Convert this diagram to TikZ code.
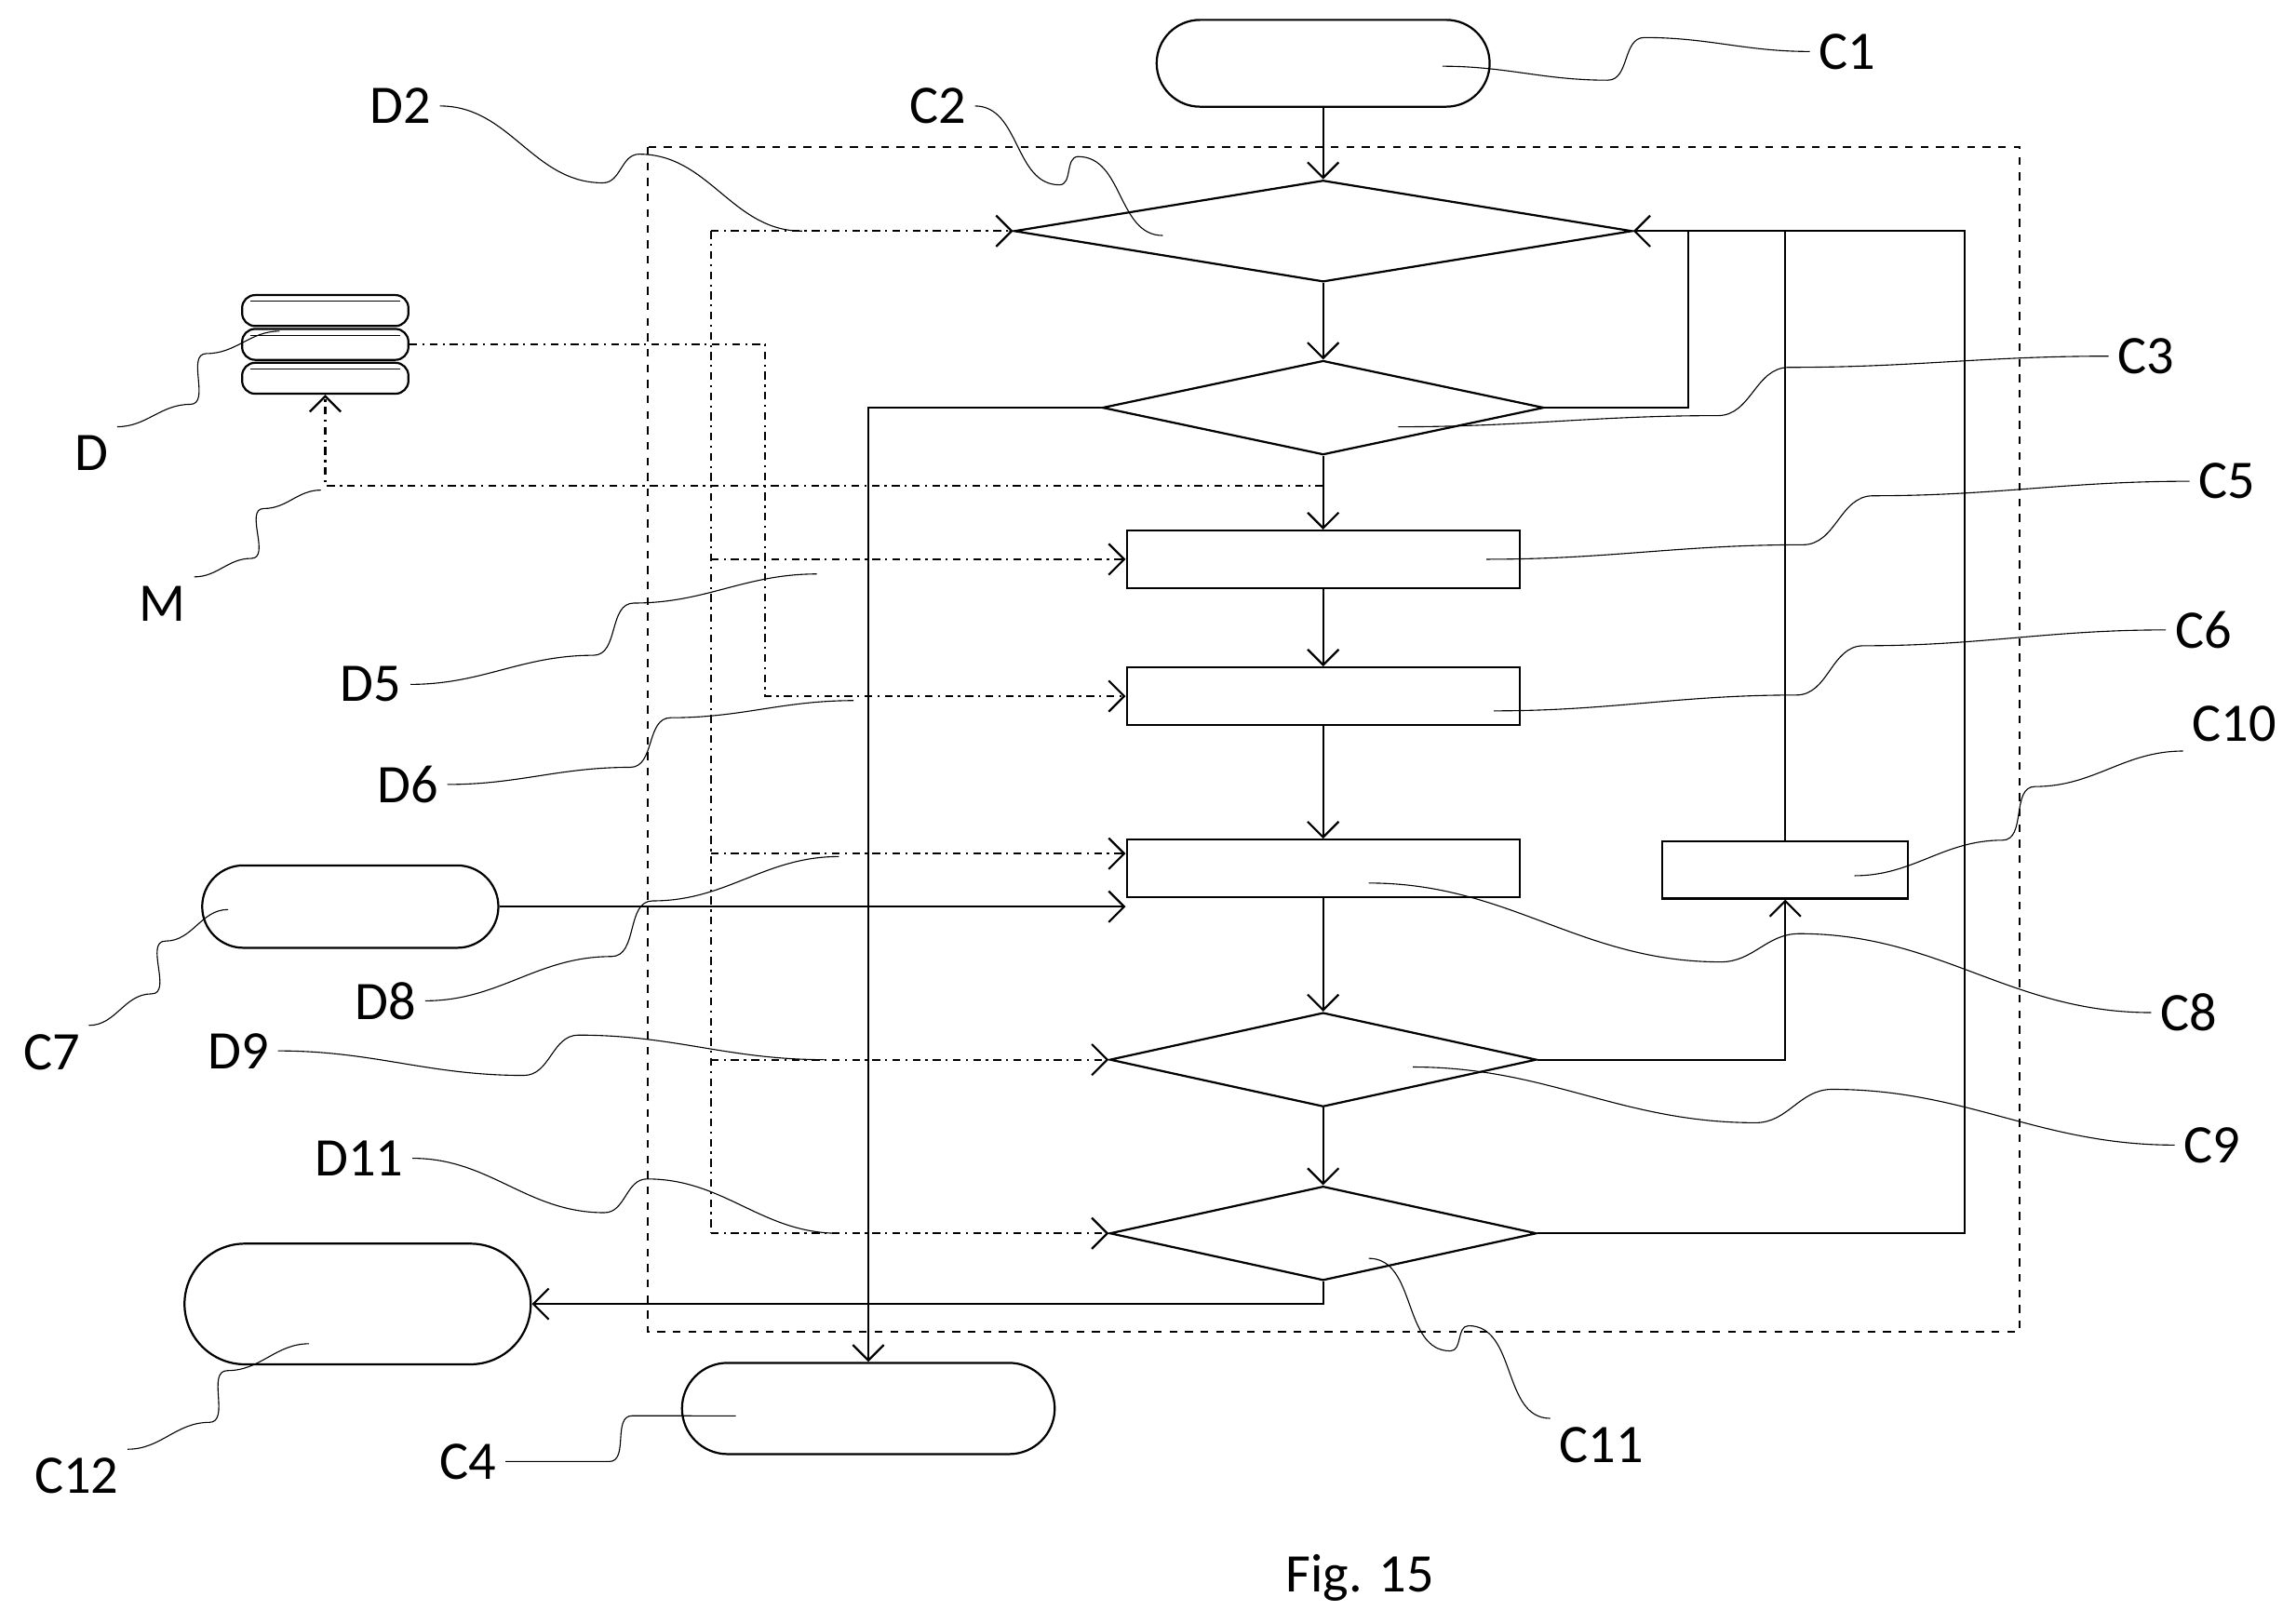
\documentclass[tikz,border=0pt]{standalone}
\usepackage{fontspec}
\setmainfont{Carlito}
\usetikzlibrary{shapes.geometric,shapes.misc,calc,arrows.meta}
\tikzset{
  term/.style={draw,rounded rectangle,thick},
  box/.style={draw,rectangle,thick,minimum width=5.34cm,minimum height=0.78cm},
  dec/.style={draw,diamond,aspect=4.6,thick,inner sep=0pt},
  flow/.style={thick,-{Straight Barb[length=6pt]}},
  data/.style={thick,dash dot,-{Straight Barb[length=6pt]}},
  lab/.style={font=\fontsize{21}{24}\selectfont},
  disc/.style={draw,thick,rounded corners=5pt,minimum width=2.26cm,minimum height=0.42cm}
}
\newcommand\squig[2]{\draw[thin] (#1) to[out=0,in=180] ($(#1)!.45!(#2)+(0,14)$)
  to[out=0,in=180] ($(#1)!.55!(#2)+(0,-14)$) to[out=0,in=180] (#2);}
\begin{document}
\begin{tikzpicture}[x=0.02cm,y=-0.02cm]
\useasboundingbox (0,0) rectangle (1560,1103);
% frame
\draw[thick,dashed] (440,100) rectangle (1372,905);
% terminals
\node[term,minimum width=4.76cm,minimum height=1.18cm] (c1) at (899,43) {};
\node[term,minimum width=4.26cm,minimum height=1.12cm] (c7) at (238,616) {};
\node[term,minimum width=4.94cm,minimum height=1.64cm] (c12) at (243,886) {};
\node[term,minimum width=5.3cm,minimum height=1.24cm] (c4) at (590,957) {};
% decisions
\node[dec,minimum width=8.4cm,minimum height=1.38cm] (c2) at (899,157) {};
\node[dec,minimum width=6cm,minimum height=1.28cm] (c3) at (899,277) {};
\node[dec,minimum width=5.8cm,minimum height=1.28cm] (c9) at (899,720) {};
\node[dec,minimum width=5.8cm,minimum height=1.28cm] (c11) at (899,838) {};
% process boxes
\node[box] (c5) at (899,380) {};
\node[box] (c6) at (899,473) {};
\node[box] (c8) at (899,590) {};
\node[box,minimum width=3.34cm] (c10) at (1213,591) {};
% database
\node[disc] (d3) at (221,257) {};
\node[disc] (d2) at (221,234) {};
\node[disc] (d1) at (221,211) {};
\foreach \n in {d1,d2,d3}
  \draw[thin] ($(\n.north west)+(6,5)$) -- ($(\n.north east)+(-6,5)$);
% flow
\draw[flow] (c1) -- (c2);
\draw[flow] (c2) -- (c3);
\draw[flow] (c3) -- (c5);
\draw[flow] (c5) -- (c6);
\draw[flow] (c6) -- (c8);
\draw[flow] (c8) -- (c9);
\draw[flow] (c9) -- (c11);
\draw[flow] (c3.west) -| (c4.north);
\draw[thick] (c3.east) -| (1147,157);
\draw[flow] (c11.east) -| (1335,157) -- (c2.east);
\draw[thick] (c10.north) -- (1213,157);
\draw[flow] (c9.east) -| (c10.south);
\draw[flow] (c11.south) |- (c12.east);
\draw[flow] (c7.east) -- (c8.west|-c7.east);
% data
\draw[thick,dash dot] (483,157) -- (483,838);
\draw[data] (483,157) -- (c2.west);
\draw[data] (483,380) -- (c5.west);
\draw[data] (483,580) -- (c8.west|-0,580);
\draw[data] (483,720) -- (c9.west);
\draw[data] (483,838) -- (c11.west);
\draw[data] (d2.east) -| (520,473) -- (c6.west);
\draw[data] (899,330) -| (d3.south);
% labels
\node[lab] (lc1) at (1255,35) {C1};
\node[lab] (lc2) at (637,72) {C2};
\node[lab] (ld2) at (272,72) {D2};
\node[lab] (lc3) at (1458,242) {C3};
\node[lab] (lc5) at (1513,327) {C5};
\node[lab] (lc6) at (1497,428) {C6};
\node[lab] (lc10) at (1518,492) {C10};
\node[lab] (lc8) at (1487,688) {C8};
\node[lab] (lc9) at (1503,778) {C9};
\node[lab] (lc11) at (1088,982) {C11};
\node[lab] (lc12) at (52,1003) {C12};
\node[lab] (lc4) at (318,993) {C4};
\node[lab] (lc7) at (35,715) {C7};
\node[lab] (ld) at (62,308) {D};
\node[lab] (lm) at (110,410) {M};
\node[lab] (ld5) at (252,465) {D5};
\node[lab] (ld6) at (277,533) {D6};
\node[lab] (ld8) at (262,680) {D8};
\node[lab] (ld9) at (162,714) {D9};
\node[lab] (ld11) at (244,787) {D11};
\node[lab] (fig) at (924,1072) {Fig. 15};
% leaders
\squig{980,45}{lc1.west}
\squig{lc2.east}{790,160}
\squig{ld2.east}{545,157}
\squig{950,290}{lc3.west}
\squig{1010,380}{lc5.west}
\squig{1015,483}{lc6.west}
\squig{1260,595}{lc10.south west}
\squig{930,600}{lc8.west}
\squig{960,725}{lc9.west}
\squig{930,855}{lc11.north west}
\squig{lc12.north east}{210,913}
\squig{lc4.east}{500,962}
\squig{lc7.north east}{155,618}
\squig{ld.north east}{190,225}
\squig{lm.north east}{218,333}
\squig{ld5.east}{555,390}
\squig{ld6.east}{580,476}
\squig{ld8.east}{570,582}
\squig{ld9.east}{560,720}
\squig{ld11.east}{570,838}
\end{tikzpicture}
\end{document}
